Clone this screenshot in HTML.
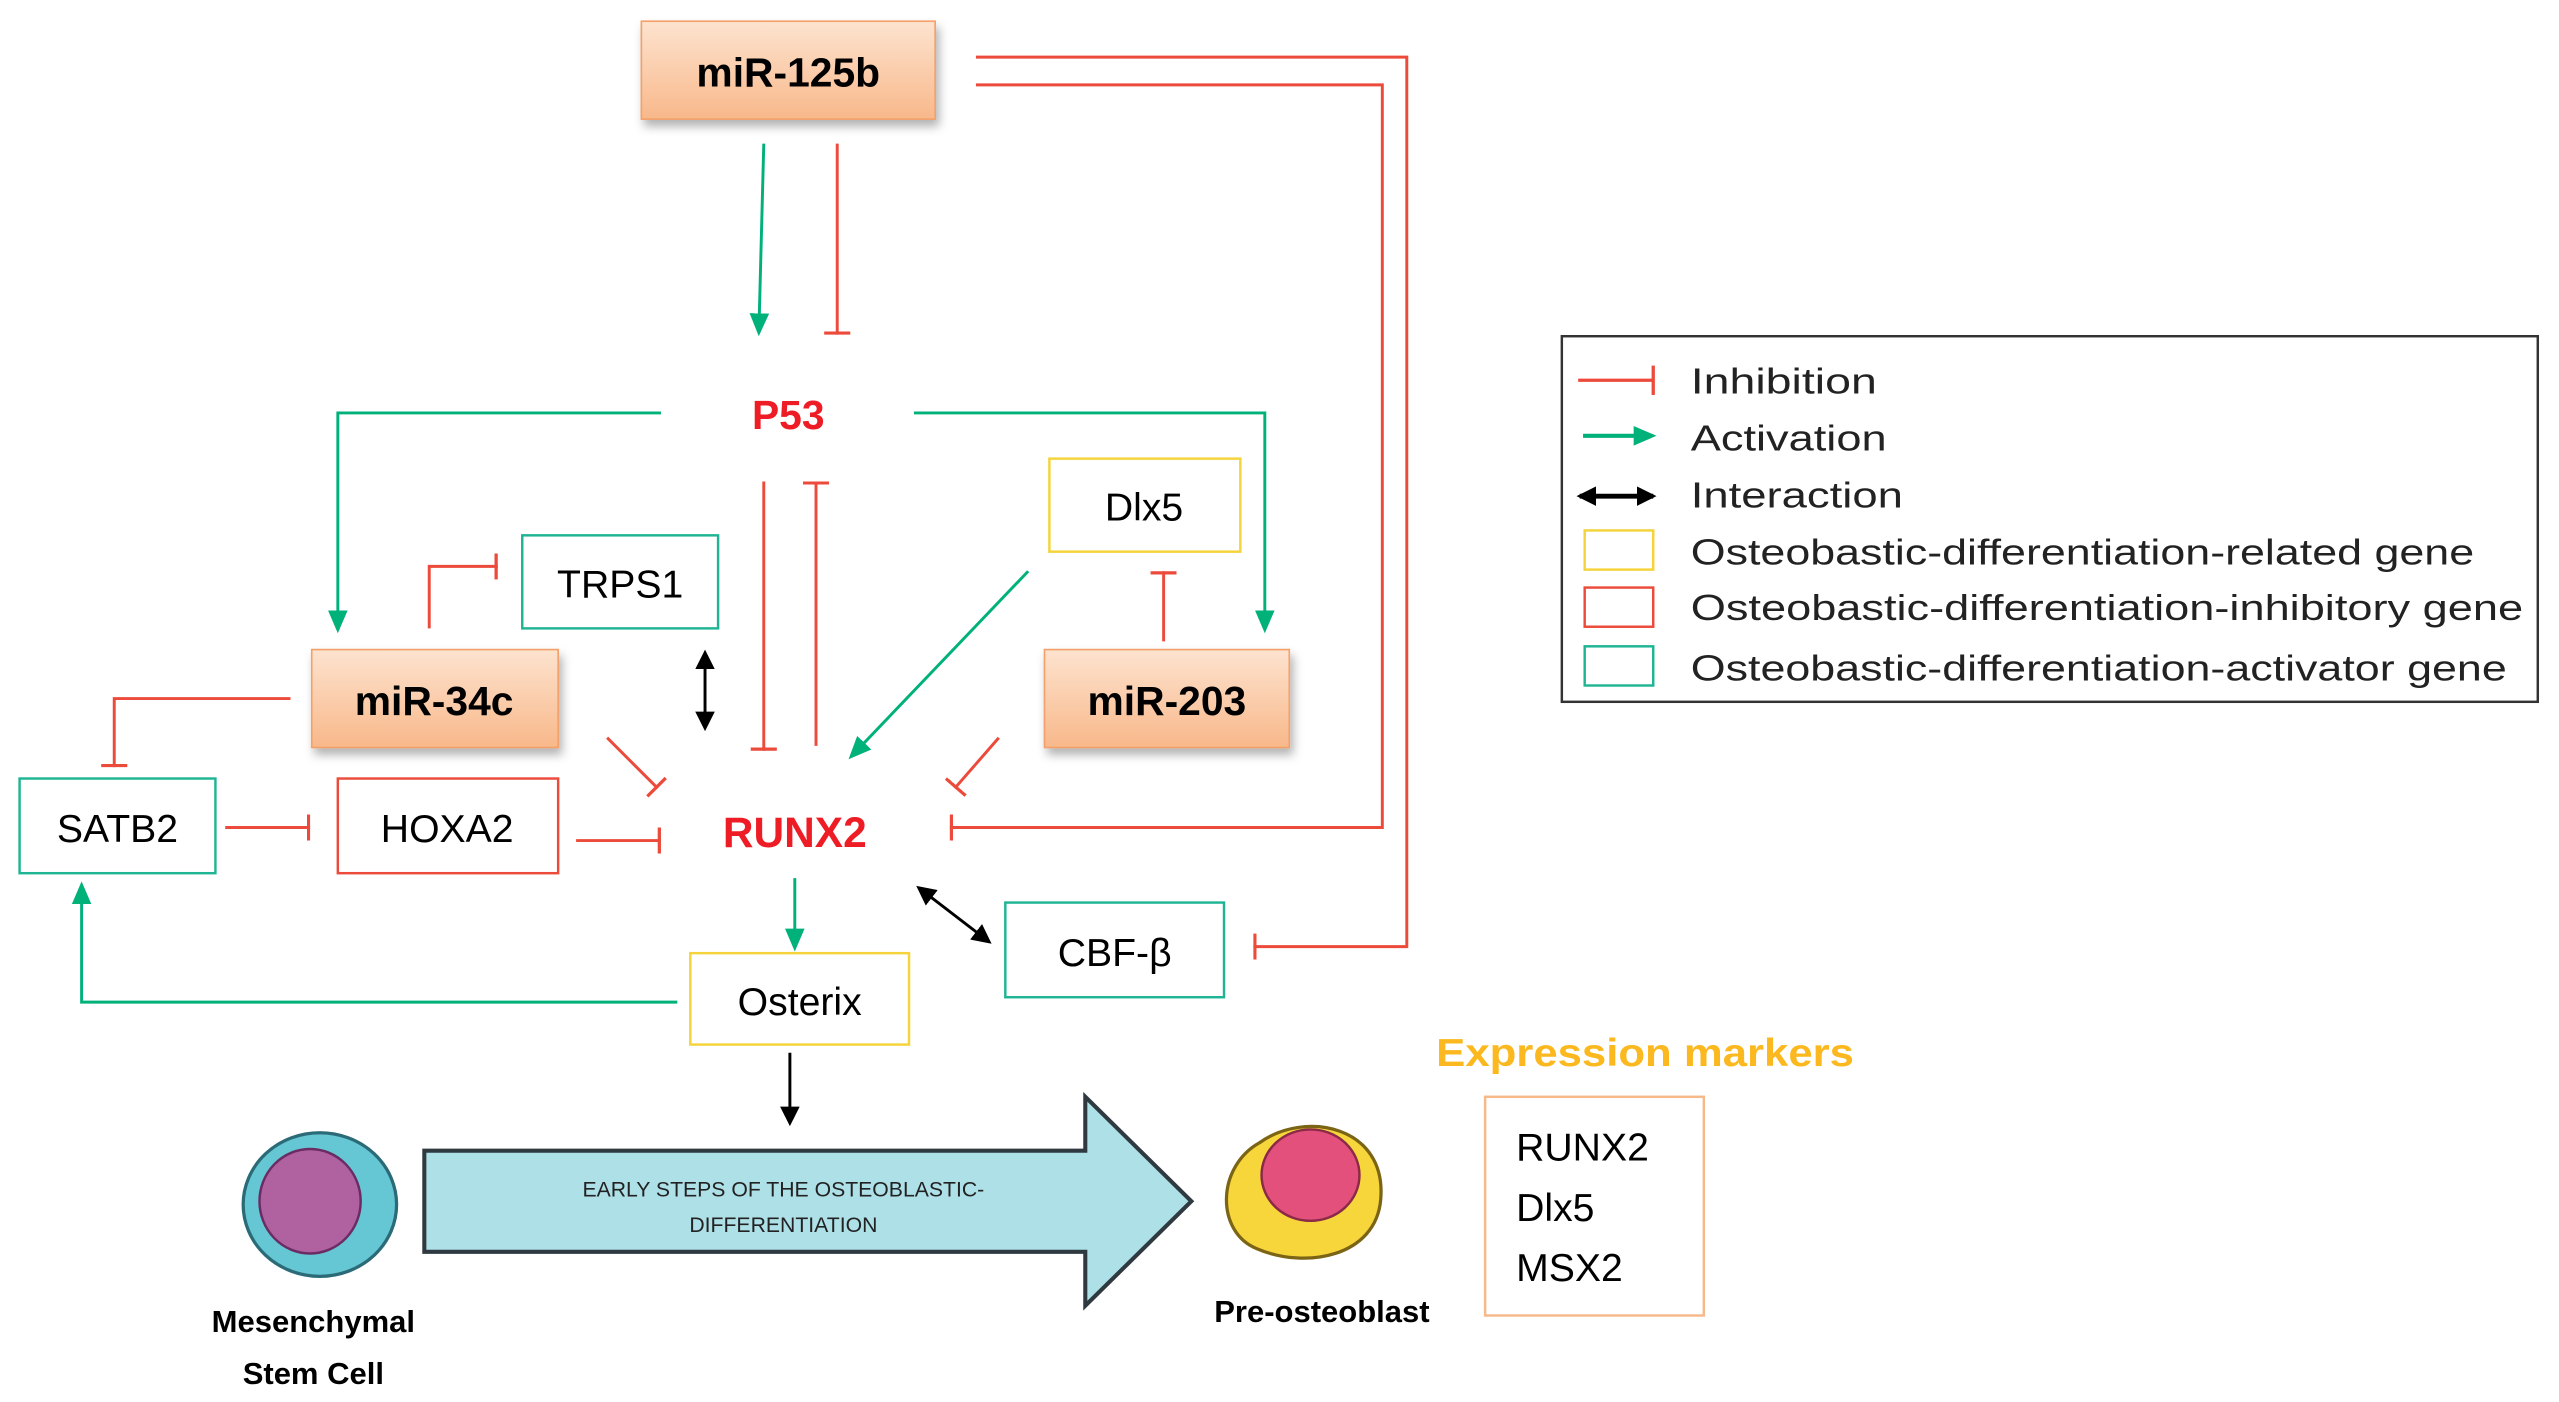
<!DOCTYPE html>
<html><head><meta charset="utf-8"><style>html,body{margin:0;padding:0;background:#fff}svg{display:block}</style></head><body>
<svg width="2559" height="1402" viewBox="0 0 1568 859" preserveAspectRatio="none" xmlns="http://www.w3.org/2000/svg" font-family="Liberation Sans, sans-serif">
<defs>
<linearGradient id="og" x1="0" y1="0" x2="0" y2="1"><stop offset="0" stop-color="#fde3cf"/><stop offset="1" stop-color="#f8b88a"/></linearGradient>
<filter id="sh" x="-20%" y="-20%" width="150%" height="160%"><feDropShadow dx="2" dy="4" stdDeviation="3" flood-color="#000" flood-opacity="0.3"/></filter>
<marker id="ga" markerWidth="14" markerHeight="14" refX="11" refY="7" orient="auto" markerUnits="userSpaceOnUse"><path d="M0,1 L14,7 L0,13 Z" fill="#00b17a"/></marker>
<marker id="ka" markerWidth="12" markerHeight="12" refX="10" refY="6" orient="auto-start-reverse" markerUnits="userSpaceOnUse"><path d="M0,0 L12,6 L0,12 Z" fill="#000"/></marker>
<marker id="rb" markerWidth="4" markerHeight="16" refX="2" refY="8" orient="auto" markerUnits="userSpaceOnUse"><rect x="0" y="0" width="2" height="16" fill="#ec4a3a"/></marker>
</defs>
<g font-size="24" text-anchor="middle">
<rect x="393" y="13" width="180" height="60" fill="url(#og)" stroke="#f3a06a" filter="url(#sh)"/>
<text x="483" y="53" font-weight="bold" font-size="25">miR-125b</text>
<rect x="191" y="398" width="151" height="60" fill="url(#og)" stroke="#f3a06a" filter="url(#sh)"/>
<text x="266" y="438" font-weight="bold" font-size="25">miR-34c</text>
<rect x="640" y="398" width="150" height="60" fill="url(#og)" stroke="#f3a06a" filter="url(#sh)"/>
<text x="715" y="438" font-weight="bold" font-size="25">miR-203</text>
<text x="483" y="263" font-weight="bold" fill="#ee1c25" font-size="25">P53</text>
<text x="487" y="519" font-weight="bold" fill="#ee1c25" font-size="26">RUNX2</text>
<rect x="643" y="281" width="117" height="57" fill="#fff" stroke="#f5d33a" stroke-width="1.5"/><text x="701" y="319">Dlx5</text>
<rect x="320" y="328" width="120" height="57" fill="#fff" stroke="#1fb594" stroke-width="1.5"/><text x="380" y="366">TRPS1</text>
<rect x="12" y="477" width="120" height="58" fill="#fff" stroke="#1fb594" stroke-width="1.5"/><text x="72" y="516">SATB2</text>
<rect x="207" y="477" width="135" height="58" fill="#fff" stroke="#ec4a3a" stroke-width="1.5"/><text x="274" y="516">HOXA2</text>
<rect x="616" y="553" width="134" height="58" fill="#fff" stroke="#1fb594" stroke-width="1.5"/><text x="683" y="592">CBF-β</text>
<rect x="423" y="584" width="134" height="56" fill="#fff" stroke="#f5d33a" stroke-width="1.5"/><text x="490" y="622">Osterix</text>
<text x="1008" y="653" font-weight="bold" fill="#fbb81f" font-size="24" textLength="256" lengthAdjust="spacingAndGlyphs">Expression markers</text>
<rect x="910" y="672" width="134" height="134" fill="#fff" stroke="#f6b98a" stroke-width="1.5"/>
<g text-anchor="start" font-size="24"><text x="929" y="711">RUNX2</text><text x="929" y="748">Dlx5</text><text x="929" y="785">MSX2</text></g>
</g>
<g fill="none" stroke-width="1.8">
<g stroke="#00b17a" marker-end="url(#ga)">
<path d="M468,88 L465,203"/>
<path d="M405,253 H207 V385"/>
<path d="M560,253 H775 V385"/>
<path d="M630,350 L522,463"/>
<path d="M487,538 V580"/>
<path d="M415,614 H50 V543"/>
</g>
<g stroke="#ec4a3a" marker-end="url(#rb)">
<path d="M513,88 V205"/>
<path d="M468,295 V460"/>
<path d="M500,457 V295"/>
<path d="M263,385 V347 H305"/>
<path d="M713,393 V350"/>
<path d="M372,452 L403,483"/>
<path d="M612,452 L585,483"/>
<path d="M178,428 H70 V470"/>
<path d="M138,507 H190"/>
<path d="M353,515 H405"/>
<path d="M598,52 H847 V507 H582"/>
<path d="M598,35 H862 V580 H768"/>
</g>
<g stroke="#000" marker-start="url(#ka)" marker-end="url(#ka)">
<path d="M432,400 V446"/>
<path d="M563,544 L606,577"/>
</g>
<path d="M484,645 V688" stroke="#000" marker-end="url(#ka)"/>
</g>
<path d="M260,705 H665 V672 L730,736 L665,800 V767 H260 Z" fill="#aee0e8" stroke="#2f3a40" stroke-width="2.5"/>
<g font-size="13" text-anchor="middle" fill="#222"><text x="480" y="733">EARLY STEPS OF THE OSTEOBLASTIC-</text><text x="480" y="755">DIFFERENTIATION</text></g>
<ellipse cx="196" cy="738" rx="47" ry="44" fill="#64c7d3" stroke="#2b6b78" stroke-width="2"/>
<ellipse cx="190" cy="736" rx="31" ry="32" fill="#b062a0" stroke="#6b2b63" stroke-width="1.5"/>
<path d="M772,700 C800,680 850,690 846,735 C843,770 800,778 770,765 C745,755 745,715 772,700 Z" fill="#f7d63b" stroke="#7b6414" stroke-width="2"/>
<ellipse cx="803" cy="720" rx="30" ry="28" fill="#e2507b" stroke="#8a2a48" stroke-width="1.5"/>
<g font-weight="bold" font-size="19" text-anchor="middle"><text x="192" y="816">Mesenchymal</text><text x="192" y="848">Stem Cell</text><text x="810" y="810">Pre-osteoblast</text></g>
<rect x="957" y="206" width="598" height="224" fill="#fff" stroke="#333" stroke-width="1.5"/>
<g stroke-width="2" fill="none">
<path d="M967,233 H1013" stroke="#ec4a3a"/><path d="M1013,224 V242" stroke="#ec4a3a"/>
<path d="M970,267 H1012" stroke="#00b17a" stroke-width="2.5" marker-end="url(#ga)"/>
<path d="M968,304 H1013" stroke="#000" stroke-width="3" marker-start="url(#ka)" marker-end="url(#ka)"/>
</g>
<rect x="971" y="325" width="42" height="24" fill="#fff" stroke="#f5d33a" stroke-width="1.5"/>
<rect x="971" y="360" width="42" height="24" fill="#fff" stroke="#ec4a3a" stroke-width="1.5"/>
<rect x="971" y="396" width="42" height="24" fill="#fff" stroke="#1fb594" stroke-width="1.5"/>
<g font-size="22" fill="#222" lengthAdjust="spacingAndGlyphs"><text x="1036" y="241" textLength="114" lengthAdjust="spacingAndGlyphs">Inhibition</text><text x="1036" y="276" textLength="120" lengthAdjust="spacingAndGlyphs">Activation</text><text x="1036" y="311" textLength="130" lengthAdjust="spacingAndGlyphs">Interaction</text><text x="1036" y="346" textLength="480" lengthAdjust="spacingAndGlyphs">Osteobastic-differentiation-related gene</text><text x="1036" y="380" textLength="510" lengthAdjust="spacingAndGlyphs">Osteobastic-differentiation-inhibitory gene</text><text x="1036" y="417" textLength="500" lengthAdjust="spacingAndGlyphs">Osteobastic-differentiation-activator gene</text></g>
</svg>
</body></html>
